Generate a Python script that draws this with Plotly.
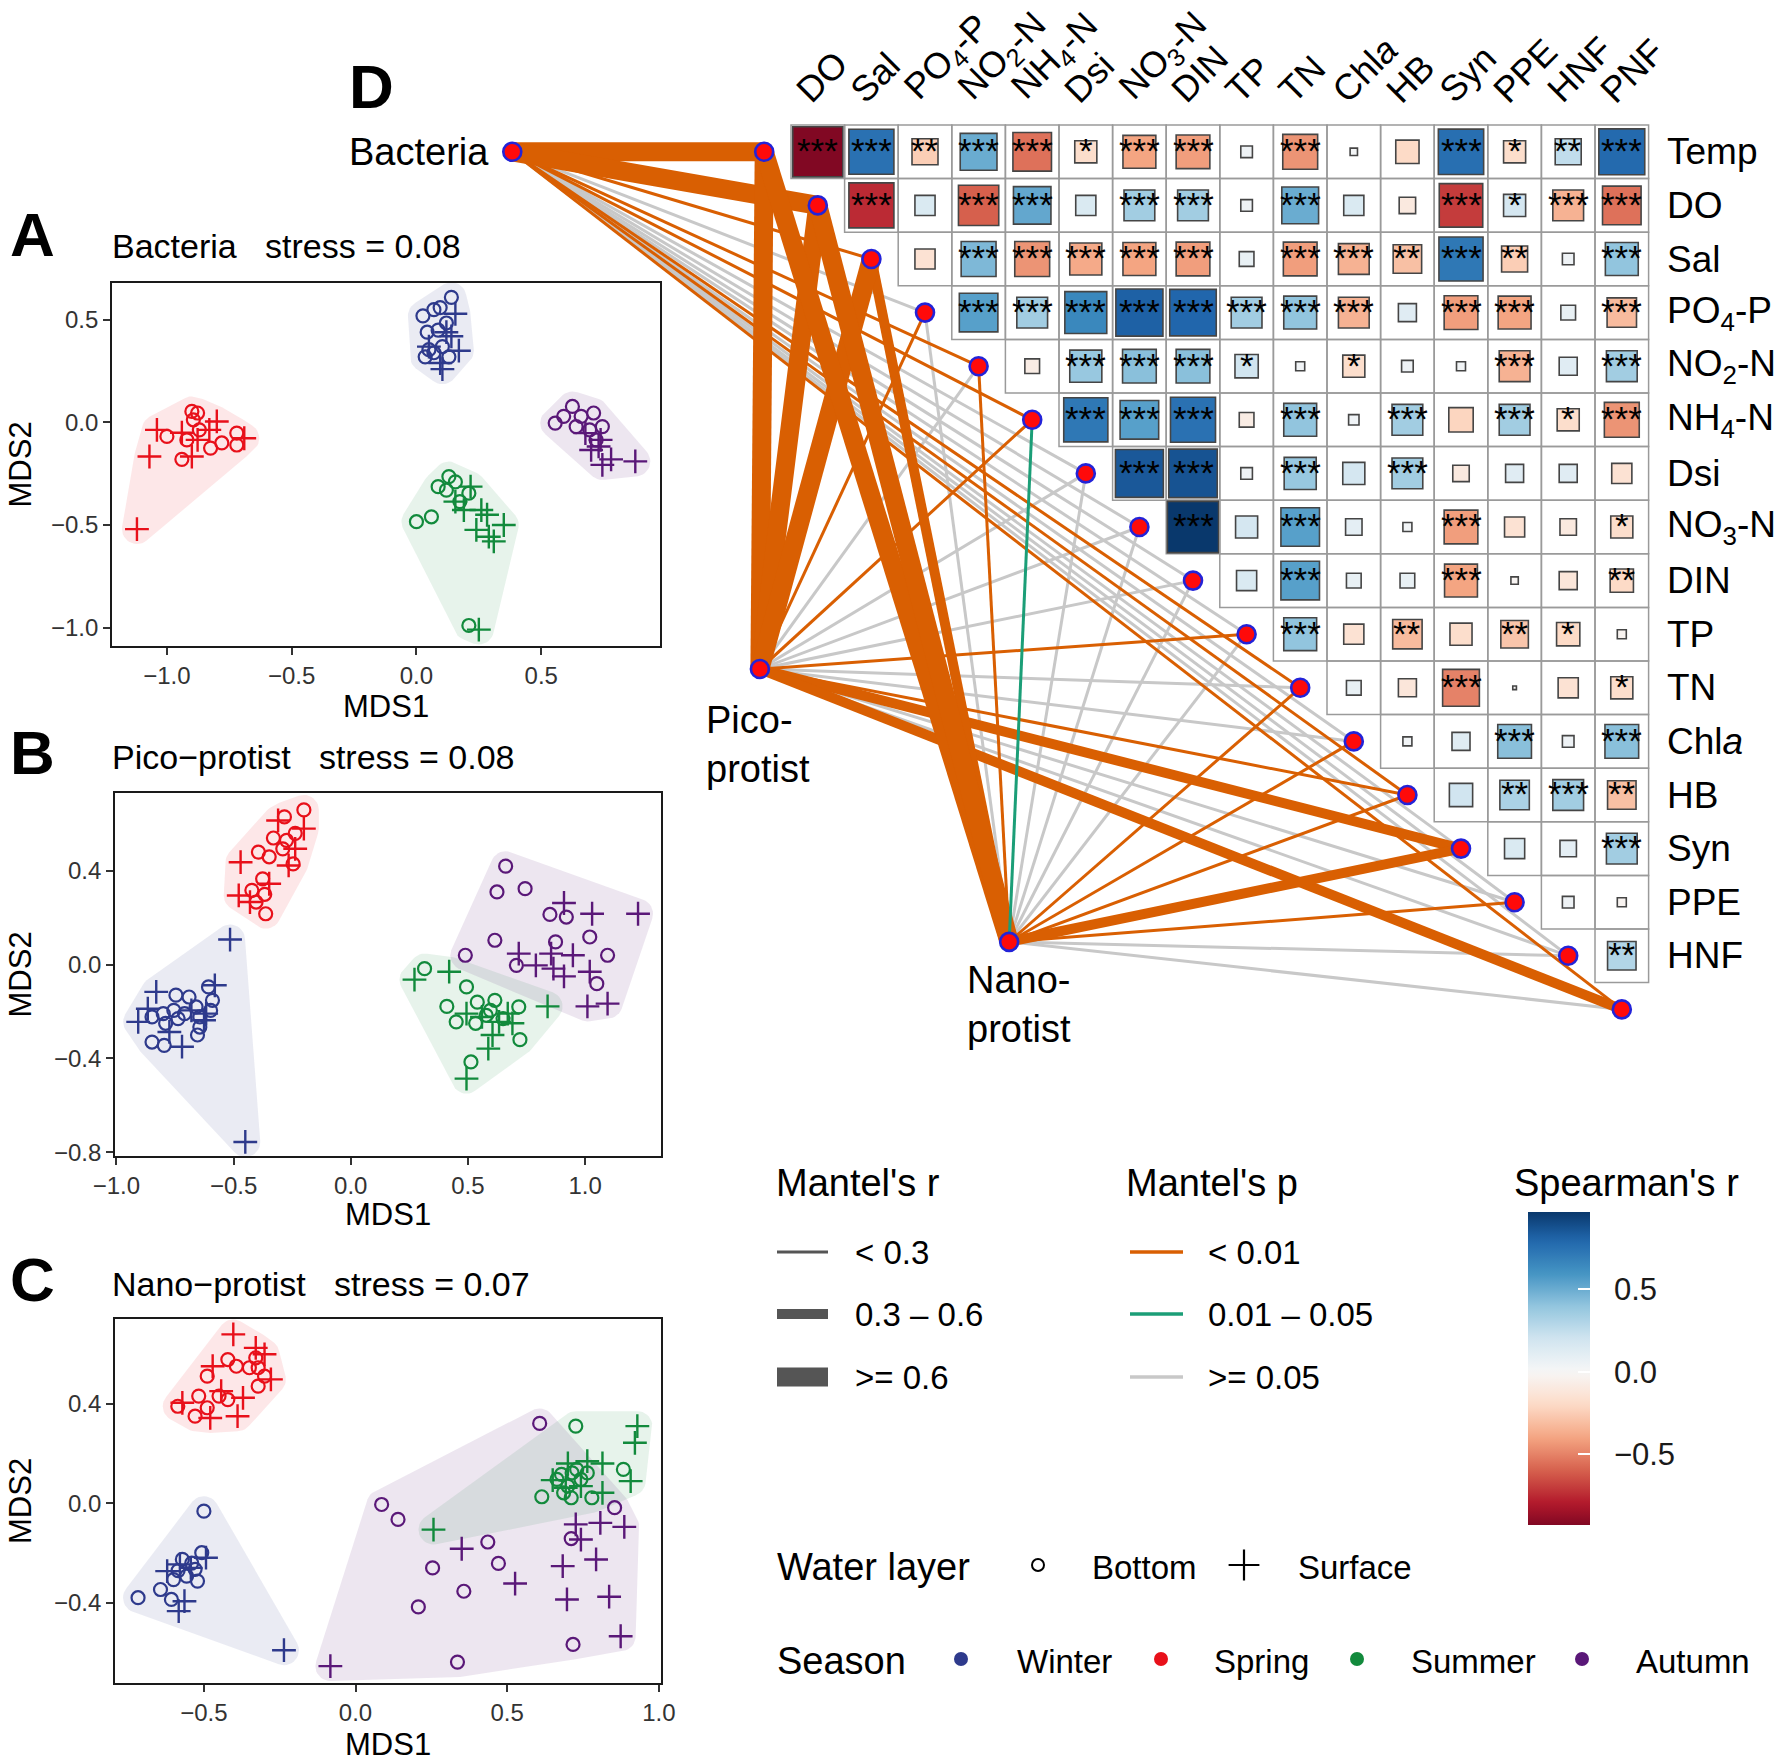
import numpy as np
import plotly.graph_objects as go

W, H = 1784, 1763
FONT = "Liberation Sans, Arial, Helvetica, sans-serif"

# ---------------- NMDS data (MDS1, MDS2) ----------------
A_WINTER_BOTTOM = [(0.14, 0.61), (0.026, 0.52), (0.07, 0.55), (0.095, 0.56), (0.12, 0.485), (0.043, 0.44),
                   (0.087, 0.45), (0.05, 0.355), (0.07, 0.34), (0.104, 0.37), (0.13, 0.32), (0.035, 0.32)]
A_WINTER_SURFACE = [(0.156, 0.53), (0.14, 0.42), (0.17, 0.35), (0.095, 0.29), (0.104, 0.26), (0.05, 0.37),
                    (0.12, 0.44)]
A_SPRING_BOTTOM = [(-0.90, 0.054), (-0.877, 0.046), (-0.894, 0.013), (-1.0, -0.068), (-0.94, -0.18),
                   (-0.825, -0.125), (-0.78, -0.10), (-0.72, -0.052), (-0.72, -0.11), (-0.92, -0.085),
                   (-0.87, -0.036)]
A_SPRING_SURFACE = [(-1.04, -0.036), (-1.07, -0.166), (-1.12, -0.52), (-0.80, 0.005), (-0.83, -0.036),
                    (-0.94, -0.05), (-0.90, -0.166), (-0.877, -0.085), (-0.69, -0.077)]
A_SUMMER_BOTTOM = [(0.13, -0.264), (0.087, -0.313), (0.12, -0.33), (0.156, -0.29), (0.21, -0.345),
                   (0.174, -0.386), (0.0, -0.484), (0.06, -0.46), (0.21, -0.99)]
A_SUMMER_SURFACE = [(0.217, -0.313), (0.156, -0.386), (0.19, -0.427), (0.26, -0.427), (0.283, -0.45),
                    (0.35, -0.5), (0.24, -0.524), (0.29, -0.557), (0.31, -0.58), (0.25, -1.01)]
A_AUTUMN_BOTTOM = [(0.625, 0.078), (0.556, -0.003), (0.59, 0.03), (0.66, 0.03), (0.71, 0.046),
                   (0.745, -0.02), (0.64, -0.02), (0.694, -0.036), (0.72, -0.085)]
A_AUTUMN_SURFACE = [(0.677, -0.052), (0.738, -0.085), (0.70, -0.134), (0.78, -0.18), (0.745, -0.207),
                    (0.877, -0.19), (0.73, -0.117)]

B_WINTER_BOTTOM = [(-0.746, -0.13), (-0.69, -0.138), (-0.607, -0.095), (-0.59, -0.152), (-0.598, -0.195),
                   (-0.848, -0.223), (-0.8, -0.209), (-0.755, -0.195), (-0.79, -0.25), (-0.737, -0.23),
                   (-0.709, -0.209), (-0.66, -0.18), (-0.644, -0.266), (-0.654, -0.3), (-0.848, -0.33),
                   (-0.796, -0.344), (-0.644, -0.223)]
B_WINTER_SURFACE = [(-0.515, 0.107), (-0.45, -0.756), (-0.58, -0.088), (-0.83, -0.116), (-0.866, -0.188),
                    (-0.907, -0.244), (-0.72, -0.35), (-0.617, -0.209), (-0.68, -0.195), (-0.774, -0.287),
                    (-0.626, -0.237)]
B_SPRING_BOTTOM = [(-0.2, 0.66), (-0.283, 0.63), (-0.237, 0.56), (-0.33, 0.54), (-0.394, 0.48),
                   (-0.348, 0.46), (-0.29, 0.494), (-0.246, 0.43), (-0.376, 0.366), (-0.422, 0.317),
                   (-0.367, 0.30), (-0.404, 0.267), (-0.363, 0.217), (-0.274, 0.53)]
B_SPRING_SURFACE = [(-0.31, 0.615), (-0.2, 0.58), (-0.237, 0.494), (-0.47, 0.437), (-0.348, 0.345),
                    (-0.478, 0.295), (-0.43, 0.267), (-0.265, 0.423)]
B_SUMMER_BOTTOM = [(0.315, -0.017), (0.494, -0.095), (0.41, -0.178), (0.45, -0.244), (0.54, -0.16),
                   (0.615, -0.152), (0.717, -0.18), (0.533, -0.25), (0.578, -0.216), (0.65, -0.23),
                   (0.722, -0.32), (0.513, -0.415), (0.596, -0.195)]
B_SUMMER_SURFACE = [(0.272, -0.064), (0.42, -0.03), (0.84, -0.178), (0.494, -0.209), (0.56, -0.223),
                    (0.633, -0.244), (0.69, -0.25), (0.605, -0.3), (0.587, -0.358), (0.494, -0.486),
                    (0.67, -0.209)]
B_AUTUMN_BOTTOM = [(0.661, 0.42), (0.624, 0.31), (0.744, 0.324), (0.85, 0.214), (0.92, 0.203),
                   (0.615, 0.104), (0.874, 0.097), (1.02, 0.118), (0.489, 0.04), (0.707, -0.003),
                   (1.096, 0.04), (1.05, -0.081)]
B_AUTUMN_SURFACE = [(0.91, 0.263), (1.03, 0.217), (1.226, 0.217), (0.717, 0.047), (0.79, -0.003),
                    (0.855, 0.047), (0.948, 0.04), (0.865, -0.017), (0.91, -0.05), (1.02, -0.03),
                    (1.01, -0.178), (1.096, -0.166)]

C_WINTER_BOTTOM = [(-0.5, -0.031), (-0.717, -0.379), (-0.643, -0.346), (-0.607, -0.386), (-0.571, -0.225),
                   (-0.529, -0.265), (-0.507, -0.198), (-0.6, -0.306), (-0.557, -0.292), (-0.521, -0.312),
                   (-0.54, -0.24), (-0.585, -0.27)]
C_WINTER_SURFACE = [(-0.236, -0.59), (-0.583, -0.433), (-0.564, -0.393), (-0.621, -0.272), (-0.579, -0.245),
                    (-0.493, -0.218), (-0.543, -0.259)]
C_SPRING_BOTTOM = [(-0.421, 0.579), (-0.393, 0.552), (-0.35, 0.546), (-0.329, 0.586), (-0.321, 0.546),
                   (-0.3, 0.512), (-0.321, 0.472), (-0.489, 0.512), (-0.517, 0.432), (-0.586, 0.391),
                   (-0.489, 0.385), (-0.529, 0.351), (-0.45, 0.432), (-0.421, 0.418)]
C_SPRING_SURFACE = [(-0.403, 0.68), (-0.329, 0.626), (-0.3, 0.6), (-0.279, 0.499), (-0.371, 0.425),
                    (-0.389, 0.351), (-0.443, 0.452), (-0.471, 0.552), (-0.479, 0.344), (-0.571, 0.405)]
C_SUMMER_BOTTOM = [(0.726, 0.311), (0.614, 0.027), (0.883, 0.137), (0.679, 0.117), (0.7, 0.07),
                   (0.714, 0.123), (0.743, 0.097), (0.764, 0.123), (0.686, 0.043), (0.711, 0.023),
                   (0.779, 0.023), (0.664, 0.097), (0.729, 0.137)]
C_SUMMER_SURFACE = [(0.257, -0.105), (0.929, 0.311), (0.921, 0.244), (0.907, 0.09), (0.814, 0.043),
                    (0.814, 0.161), (0.764, 0.17), (0.7, 0.161), (0.65, 0.094), (0.743, 0.07), (0.693, 0.063)]
C_AUTUMN_BOTTOM = [(0.607, 0.322), (0.086, -0.004), (0.14, -0.064), (0.436, -0.155), (0.254, -0.259),
                   (0.471, -0.241), (0.357, -0.353), (0.207, -0.416), (0.336, -0.638), (0.717, -0.567),
                   (0.711, -0.141), (0.854, -0.017)]
C_AUTUMN_SURFACE = [(-0.083, -0.654), (0.35, -0.182), (0.526, -0.322), (0.683, -0.252), (0.697, -0.386),
                    (0.726, -0.084), (0.743, -0.145), (0.807, -0.078), (0.886, -0.094), (0.793, -0.225),
                    (0.836, -0.375), (0.874, -0.534)]

SEASONS = ["Winter", "Spring", "Summer", "Autumn"]
PANEL_TITLES = ["Bacteria   stress = 0.08", "Pico\u2212protist   stress = 0.08", "Nano\u2212protist   stress = 0.07"]
PANEL_LETTERS = ["A", "B", "C"]

# ---------------- Spearman correlation matrix (upper triangle) ----------------
ROW_VARS = ["Temp", "DO", "Sal", "PO4-P", "NO2-N", "NH4-N", "Dsi", "NO3-N", "DIN", "TP", "TN", "Chla",
            "HB", "Syn", "PPE", "HNF"]
COL_VARS = ["DO", "Sal", "PO4-P", "NO2-N", "NH4-N", "Dsi", "NO3-N", "DIN", "TP", "TN", "Chla", "HB",
            "Syn", "PPE", "HNF", "PNF"]
R_TEMP = [-0.93, 0.75, -0.25, 0.50, -0.55, -0.18, -0.40, -0.42, 0.05, -0.45, 0.02, -0.20, 0.76, -0.18, 0.25, 0.78]
R_DO = [-0.75, 0.15, -0.60, 0.52, 0.15, 0.35, 0.35, 0.05, 0.50, 0.15, -0.10, -0.70, 0.18, -0.35, -0.55]
R_SAL = [-0.15, 0.45, -0.45, -0.38, -0.40, -0.42, 0.08, -0.42, -0.35, -0.30, 0.72, -0.25, 0.05, 0.40]
R_PO4 = [0.55, 0.35, 0.65, 0.82, 0.80, 0.35, 0.40, -0.35, 0.12, -0.42, -0.40, 0.08, -0.32]
R_NO2 = [-0.08, 0.38, 0.42, 0.42, 0.20, 0.03, -0.18, 0.05, 0.03, -0.35, 0.12, 0.35]
R_NH4 = [0.72, 0.55, 0.75, -0.08, 0.40, 0.04, 0.35, -0.22, 0.35, -0.18, -0.45]
R_DSI = [0.85, 0.87, 0.05, 0.38, 0.18, 0.35, -0.10, 0.12, 0.12, -0.15]
R_NO3 = [0.97, 0.18, 0.55, 0.10, 0.03, -0.42, -0.15, -0.10, -0.18]
R_DIN = [0.15, 0.55, 0.08, 0.08, -0.40, -0.02, -0.12, -0.20]
R_TP = [0.40, -0.15, -0.32, -0.18, -0.28, -0.20, -0.03]
R_TN = [0.08, -0.12, -0.50, -0.005, -0.15, -0.18]
R_CHLA = [0.03, 0.12, 0.42, 0.05, 0.42]
R_HB = [0.20, 0.32, 0.35, -0.30]
R_SYN = [0.15, 0.10, 0.35]
R_PPE = [0.05, -0.03]
R_HNF = [0.30]

S_TEMP = ["***", "***", "**", "***", "***", "*", "***", "***", "", "***", "", "", "***", "*", "**", "***"]
S_DO = ["***", "", "***", "***", "", "***", "***", "", "***", "", "", "***", "*", "***", "***"]
S_SAL = ["", "***", "***", "***", "***", "***", "", "***", "***", "**", "***", "**", "", "***"]
S_PO4 = ["***", "***", "***", "***", "***", "***", "***", "***", "", "***", "***", "", "***"]
S_NO2 = ["", "***", "***", "***", "*", "", "*", "", "", "***", "", "***"]
S_NH4 = ["***", "***", "***", "", "***", "", "***", "", "***", "*", "***"]
S_DSI = ["***", "***", "", "***", "", "***", "", "", "", ""]
S_NO3 = ["***", "", "***", "", "", "***", "", "", "*"]
S_DIN = ["", "***", "", "", "***", "", "", "**"]
S_TP = ["***", "", "**", "", "**", "*", ""]
S_TN = ["", "", "***", "", "", "*"]
S_CHLA = ["", "", "***", "", "***"]
S_HB = ["", "**", "***", "**"]
S_SYN = ["", "", "***"]
S_PPE = ["", ""]
S_HNF = ["**"]

R_ROWS = [R_TEMP, R_DO, R_SAL, R_PO4, R_NO2, R_NH4, R_DSI, R_NO3, R_DIN, R_TP, R_TN, R_CHLA, R_HB, R_SYN,
          R_PPE, R_HNF]
S_ROWS = [S_TEMP, S_DO, S_SAL, S_PO4, S_NO2, S_NH4, S_DSI, S_NO3, S_DIN, S_TP, S_TN, S_CHLA, S_HB, S_SYN,
          S_PPE, S_HNF]

# ---------------- Mantel tests ----------------
ENV_VARS = ["Temp", "DO", "Sal", "PO4-P", "NO2-N", "NH4-N", "Dsi", "NO3-N", "DIN", "TP", "TN", "Chla",
            "HB", "Syn", "PPE", "HNF", "PNF"]
TAXA = ["Bacteria", "Pico-protist", "Nano-protist"]
# Mantel's r class: 1 = <0.3, 2 = 0.3-0.6, 3 = >=0.6 ; Mantel's p class: 1 = <0.01, 2 = 0.01-0.05, 3 = >=0.05
BAC_R = [3, 3, 1, 1, 1, 1, 1, 1, 1, 1, 1, 1, 1, 1, 1, 1, 1]
BAC_P = [1, 1, 1, 3, 1, 1, 3, 3, 3, 3, 1, 3, 1, 3, 3, 3, 1]
PICO_R = [3, 3, 3, 1, 1, 1, 1, 1, 1, 1, 1, 1, 1, 2, 1, 1, 2]
PICO_P = [1, 1, 1, 1, 3, 1, 3, 3, 3, 1, 3, 3, 1, 1, 3, 3, 1]
NANO_R = [3, 3, 2, 1, 1, 1, 1, 1, 1, 1, 1, 1, 1, 2, 1, 1, 1]
NANO_P = [1, 1, 1, 3, 1, 2, 3, 3, 3, 3, 1, 1, 1, 1, 1, 3, 3]

R_LABELS = ["< 0.3", "0.3 \u2013 0.6", ">= 0.6"]
P_LABELS = ["< 0.01", "0.01 \u2013 0.05", ">= 0.05"]

# ---------------- styles ----------------
SEASON_COL = {"Winter": "#2E3A8C", "Spring": "#E8101A", "Summer": "#128A3C", "Autumn": "#5A1878"}
SEASON_FILL = {"Winter": "rgba(46,58,140,0.10)", "Spring": "rgba(232,16,26,0.10)",
               "Summer": "rgba(18,138,60,0.10)", "Autumn": "rgba(90,24,120,0.11)"}
P_COL = {1: "#D95F02", 2: "#1B9E77", 3: "#C8C8C8"}
R_WIDTH = {1: 3, 2: 10, 3: 19}
RDBU = ["#67001F", "#B2182B", "#D6604D", "#F4A582", "#FDDBC7", "#F7F7F7", "#D1E5F0", "#92C5DE",
        "#4393C3", "#2166AC", "#053061"]


def hex2rgb(h):
    h = h.lstrip("#")
    return [int(h[i:i + 2], 16) for i in (0, 2, 4)]


def rdbu(v):
    t = (max(-1.0, min(1.0, v)) + 1) / 2 * 10
    i = min(int(np.floor(t)), 9)
    f = t - i
    a, b = hex2rgb(RDBU[i]), hex2rgb(RDBU[i + 1])
    c = [round(a[k] + (b[k] - a[k]) * f) for k in range(3)]
    return "rgb(%d,%d,%d)" % tuple(c)


def convex_hull(pts):
    pts = sorted(set(pts))
    if len(pts) < 3:
        return pts

    def cross(o, a, b):
        return (a[0] - o[0]) * (b[1] - o[1]) - (a[1] - o[1]) * (b[0] - o[0])
    lower, upper = [], []
    for p in pts:
        while len(lower) >= 2 and cross(lower[-2], lower[-1], p) <= 0:
            lower.pop()
        lower.append(p)
    for p in reversed(pts):
        while len(upper) >= 2 and cross(upper[-2], upper[-1], p) <= 0:
            upper.pop()
        upper.append(p)
    return lower[:-1] + upper[:-1]


def hull_xy(points, xr, yr, wpx, hpx, pad=15):
    pts = np.array(points, dtype=float)
    px = (pts[:, 0] - xr[0]) / (xr[1] - xr[0]) * wpx
    py = (pts[:, 1] - yr[0]) / (yr[1] - yr[0]) * hpx
    ang = np.linspace(0, 2 * np.pi, 36, endpoint=False)
    bx = (px[:, None] + pad * np.cos(ang)[None, :]).ravel()
    by = (py[:, None] + pad * np.sin(ang)[None, :]).ravel()
    hull = convex_hull([(round(a, 3), round(b, 3)) for a, b in zip(bx, by)])
    hull.append(hull[0])
    hx = [xr[0] + a / wpx * (xr[1] - xr[0]) for a, b in hull]
    hy = [yr[0] + b / hpx * (yr[1] - yr[0]) for a, b in hull]
    return hx, hy


fig = go.Figure()
annotations = []
shapes = []


def px2paper(x, y):
    return x / W, 1 - y / H


def add_text(text, xpx, ypx, size, xanchor="left", yanchor="middle", bold=False, angle=0, color="#000"):
    x, y = px2paper(xpx, ypx)
    annotations.append(dict(text=("<b>%s</b>" % text) if bold else text, x=x, y=y, xref="paper",
                            yref="paper", xanchor=xanchor, yanchor=yanchor, showarrow=False,
                            textangle=angle, font=dict(size=size, color=color, family=FONT)))


# ---------------- NMDS panels ----------------
PANELS = [
    dict(ax="", box=(112, 660, 283, 646), xr=(-1.22, 0.976), yr=(-1.09, 0.68), dty=0.5,
         data={"Winter": (A_WINTER_BOTTOM, A_WINTER_SURFACE), "Spring": (A_SPRING_BOTTOM, A_SPRING_SURFACE),
               "Summer": (A_SUMMER_BOTTOM, A_SUMMER_SURFACE), "Autumn": (A_AUTUMN_BOTTOM, A_AUTUMN_SURFACE)},
         letter_y=234, title_y=246, mds1_y=707),
    dict(ax="2", box=(115, 661, 793, 1156), xr=(-1.006, 1.324), yr=(-0.816, 0.732), dty=0.4,
         data={"Winter": (B_WINTER_BOTTOM, B_WINTER_SURFACE), "Spring": (B_SPRING_BOTTOM, B_SPRING_SURFACE),
               "Summer": (B_SUMMER_BOTTOM, B_SUMMER_SURFACE), "Autumn": (B_AUTUMN_BOTTOM, B_AUTUMN_SURFACE)},
         letter_y=753, title_y=757, mds1_y=1214),
    dict(ax="3", box=(115, 661, 1319, 1683), xr=(-0.793, 1.007), yr=(-0.722, 0.742), dty=0.4,
         data={"Winter": (C_WINTER_BOTTOM, C_WINTER_SURFACE), "Spring": (C_SPRING_BOTTOM, C_SPRING_SURFACE),
               "Summer": (C_SUMMER_BOTTOM, C_SUMMER_SURFACE), "Autumn": (C_AUTUMN_BOTTOM, C_AUTUMN_SURFACE)},
         letter_y=1279, title_y=1284, mds1_y=1744),
]

layout_axes = {}
for k, p in enumerate(PANELS):
    x0, x1, y0, y1 = p["box"]
    wpx, hpx = x1 - x0, y1 - y0
    xa, ya = "x" + p["ax"], "y" + p["ax"]
    for s in SEASONS:
        bottom, surface = p["data"][s]
        hx, hy = hull_xy(bottom + surface, p["xr"], p["yr"], wpx, hpx, pad=15)
        fig.add_trace(go.Scatter(x=hx, y=hy, mode="lines", fill="toself", fillcolor=SEASON_FILL[s],
                                 line=dict(width=0), xaxis=xa, yaxis=ya, hoverinfo="skip"))
    for s in SEASONS:
        bottom, surface = p["data"][s]
        fig.add_trace(go.Scatter(x=[q[0] for q in bottom], y=[q[1] for q in bottom], mode="markers",
                                 marker=dict(symbol="circle-open", size=13, color=SEASON_COL[s],
                                             line=dict(width=2.2, color=SEASON_COL[s])),
                                 xaxis=xa, yaxis=ya, name=s + " bottom"))
        fig.add_trace(go.Scatter(x=[q[0] for q in surface], y=[q[1] for q in surface], mode="markers",
                                 marker=dict(symbol="cross-thin-open", size=17, color=SEASON_COL[s],
                                             line=dict(width=2.4, color=SEASON_COL[s])),
                                 xaxis=xa, yaxis=ya, name=s + " surface"))
    common = dict(showline=True, mirror=True, linecolor="#1a1a1a", linewidth=1.8, ticks="outside",
                  ticklen=7, tickwidth=1.8, tickcolor="#333", showgrid=False, zeroline=False,
                  tickfont=dict(size=24, color="#333", family=FONT), tickformat=".1f", tick0=0,
                  automargin=False)
    layout_axes["xaxis" + p["ax"]] = dict(common, domain=[x0 / W, x1 / W], range=list(p["xr"]),
                                          anchor=ya, dtick=0.5)
    layout_axes["yaxis" + p["ax"]] = dict(common, domain=[1 - y1 / H, 1 - y0 / H], range=list(p["yr"]),
                                          anchor=xa, dtick=p["dty"])
    add_text(PANEL_LETTERS[k], 8, p["letter_y"], 62, bold=True)
    add_text(PANEL_TITLES[k].replace("   ", "\u00a0\u00a0\u00a0"), 110, p["title_y"], 34)
    add_text("MDS1", (x0 + x1) / 2, p["mds1_y"], 31, xanchor="center")
    add_text("MDS2", 20, (y0 + y1) / 2, 31, xanchor="center", angle=-90)

# ---------------- Panel D: correlation heatmap + Mantel network ----------------
CELL = 53.6
X0PX, Y0PX = 791.0, 125.0   # pixel position of the heatmap's top-left corner
layout_axes["xaxis4"] = dict(domain=[0, 1], range=[-0.5 - X0PX / CELL, -0.5 + (W - X0PX) / CELL],
                             visible=False, anchor="y4", automargin=False)
layout_axes["yaxis4"] = dict(domain=[0, 1], range=[-0.5 + (H - Y0PX) / CELL, -0.5 - Y0PX / CELL],
                             visible=False, anchor="x4", automargin=False)

env_x = [k - 1 for k in range(len(ENV_VARS))]
env_y = [k for k in range(len(ENV_VARS))]
TAXA_X = [-5.7, -1.08, 3.57]
TAXA_Y = [0.0, 9.65, 14.74]
R_CLASSES = [BAC_R, PICO_R, NANO_R]
P_CLASSES = [BAC_P, PICO_P, NANO_P]

for pc in (3, 1, 2):
    for rc in (1, 2, 3):
        xs, ys = [], []
        for t in range(len(TAXA)):
            for e in range(len(ENV_VARS)):
                if R_CLASSES[t][e] == rc and P_CLASSES[t][e] == pc:
                    xs += [TAXA_X[t], env_x[e], None]
                    ys += [TAXA_Y[t], env_y[e], None]
        if xs:
            fig.add_trace(go.Scatter(x=xs, y=ys, mode="lines", xaxis="x4", yaxis="y4", hoverinfo="skip",
                                     line=dict(color=P_COL[pc], width=R_WIDTH[rc])))

fig.add_trace(go.Scatter(x=TAXA_X + env_x, y=TAXA_Y + env_y, mode="markers", xaxis="x4", yaxis="y4",
                         marker=dict(size=18, color="#FF0A0A", line=dict(color="#2323D8", width=2.6)),
                         hoverinfo="skip"))

# heatmap cells, squares and significance stars
for i, (rrow, srow) in enumerate(zip(R_ROWS, S_ROWS)):
    for m, (r, s) in enumerate(zip(rrow, srow)):
        j = i + m
        shapes.append(dict(type="rect", xref="x4", yref="y4", x0=j - 0.5, x1=j + 0.5, y0=i - 0.5,
                           y1=i + 0.5, line=dict(color="#9A9A9A", width=1.5), fillcolor="rgba(0,0,0,0)",
                           layer="above"))
        half = np.sqrt(abs(r)) / 2 * 0.97
        shapes.append(dict(type="rect", xref="x4", yref="y4", x0=j - half, x1=j + half, y0=i - half,
                           y1=i + half, line=dict(color="#454545", width=1.6), fillcolor=rdbu(r),
                           layer="above"))
        if s:
            annotations.append(dict(text=s, x=j, y=i - 0.02, xref="x4", yref="y4", xanchor="center",
                                    yanchor="middle", showarrow=False,
                                    font=dict(size=35, color="#000", family=FONT)))


def label_html(v):
    sub = {"PO4-P": "PO<sub>4</sub>-P", "NO2-N": "NO<sub>2</sub>-N", "NH4-N": "NH<sub>4</sub>-N",
           "NO3-N": "NO<sub>3</sub>-N", "Chla": "Chl<i>a</i>"}
    return sub.get(v, v)


for j, v in enumerate(COL_VARS):
    annotations.append(dict(text=label_html(v), x=j - 0.6, y=-0.72, xref="x4", yref="y4", xanchor="left",
                            yanchor="bottom", textangle=-45, showarrow=False,
                            font=dict(size=36, color="#000", family=FONT)))
for i, v in enumerate(ROW_VARS):
    annotations.append(dict(text=label_html(v), x=15.5 + 0.3, y=i, xref="x4", yref="y4", xanchor="left",
                            yanchor="middle", showarrow=False, font=dict(size=37, color="#000", family=FONT)))

annotations.append(dict(text="Bacteria", x=-6.1, y=0.0, xref="x4", yref="y4", xanchor="right",
                        yanchor="middle", showarrow=False, font=dict(size=38, family=FONT, color="#000")))
annotations.append(dict(text="Pico-<br>protist", x=-2.12, y=11.05, xref="x4", yref="y4", xanchor="left",
                        yanchor="middle", align="left", showarrow=False,
                        font=dict(size=38, family=FONT, color="#000")))
annotations.append(dict(text="Nano-<br>protist", x=2.75, y=15.9, xref="x4", yref="y4", xanchor="left",
                        yanchor="middle", align="left", showarrow=False,
                        font=dict(size=38, family=FONT, color="#000")))
add_text("D", 347, 86, 62, bold=True)

# colour bar (Spearman's r)
CMIN, CMAX = -0.93, 0.97
cscale = []
for t in np.linspace(0, 1, 41):
    cscale.append([float(t), rdbu(CMIN + t * (CMAX - CMIN))])
fig.add_trace(go.Scatter(x=[-100], y=[-100], mode="markers", xaxis="x4", yaxis="y4", hoverinfo="skip",
                         marker=dict(size=1, color=[0.0], cmin=CMIN, cmax=CMAX, colorscale=cscale,
                                     showscale=True,
                                     colorbar=dict(x=1528 / W, xanchor="left", y=1 - 1212 / H, yanchor="top",
                                                   len=313 / H, lenmode="fraction", thickness=62,
                                                   thicknessmode="pixels", outlinewidth=0, xpad=0, ypad=0,
                                                   tickvals=[-0.5, 0.0, 0.5],
                                                   ticktext=["\u00a0\u00a0\u22120.5", "\u00a0\u00a00.0",
                                                             "\u00a0\u00a00.5"],
                                                   ticks="inside", ticklen=12, tickwidth=1.6, tickcolor="white",
                                                   tickfont=dict(size=31, color="#1a1a1a", family=FONT)))))
add_text("Spearman's r", 1512, 1183, 38)

# Mantel legends
add_text("Mantel's r", 774, 1183, 38)
add_text("Mantel's p", 1124, 1183, 38)
LEG_Y = [1252, 1314, 1377]
for k in range(3):
    xa0, ya0 = px2paper(777, LEG_Y[k])
    xa1, _ = px2paper(828, LEG_Y[k])
    shapes.append(dict(type="line", xref="paper", yref="paper", x0=xa0, x1=xa1, y0=ya0, y1=ya0,
                       line=dict(color="#555555", width=R_WIDTH[k + 1])))
    add_text(R_LABELS[k], 853, LEG_Y[k], 33)
    xb0, _ = px2paper(1130, LEG_Y[k])
    xb1, _ = px2paper(1183, LEG_Y[k])
    shapes.append(dict(type="line", xref="paper", yref="paper", x0=xb0, x1=xb1, y0=ya0, y1=ya0,
                       line=dict(color=P_COL[k + 1], width=3.5)))
    add_text(P_LABELS[k], 1206, LEG_Y[k], 33)

# Water layer legend
add_text("Water layer", 775, 1567, 38)
fig.add_trace(go.Scatter(x=[1038 / W], y=[1 - 1565 / H], mode="markers", xaxis="x5", yaxis="y5",
                         marker=dict(symbol="circle-open", size=12, color="#000", line=dict(width=2, color="#000")),
                         hoverinfo="skip"))
fig.add_trace(go.Scatter(x=[1244 / W], y=[1 - 1565 / H], mode="markers", xaxis="x5", yaxis="y5",
                         marker=dict(symbol="cross-thin-open", size=22, color="#000",
                                     line=dict(width=2.2, color="#000")), hoverinfo="skip"))
add_text("Bottom", 1090, 1567, 33)
add_text("Surface", 1296, 1567, 33)

# Season legend
add_text("Season", 775, 1661, 38)
SEASON_DOT_X = [961, 1161, 1357, 1582]
SEASON_LAB_X = [1015, 1212, 1409, 1634]
for k, s in enumerate(SEASONS):
    fig.add_trace(go.Scatter(x=[SEASON_DOT_X[k] / W], y=[1 - 1659 / H], mode="markers", xaxis="x5",
                             yaxis="y5", marker=dict(size=14, color=SEASON_COL[s]), hoverinfo="skip"))
    add_text(s, SEASON_LAB_X[k], 1661, 33)

layout_axes["xaxis5"] = dict(domain=[0, 1], range=[0, 1], visible=False, anchor="y5", automargin=False)
layout_axes["yaxis5"] = dict(domain=[0, 1], range=[0, 1], visible=False, anchor="x5", automargin=False)

fig.update_layout(width=W, height=H, autosize=False,
                  margin=dict(l=0, r=0, t=0, b=0, pad=0, autoexpand=False),
                  paper_bgcolor="white", plot_bgcolor="rgba(0,0,0,0)", showlegend=False,
                  font=dict(family=FONT, color="#000"), annotations=annotations, shapes=shapes,
                  **layout_axes)

fig.write_html("out.html", config={"displayModeBar": False},
               post_script="document.body.style.margin='0';document.body.style.overflow='hidden';")
